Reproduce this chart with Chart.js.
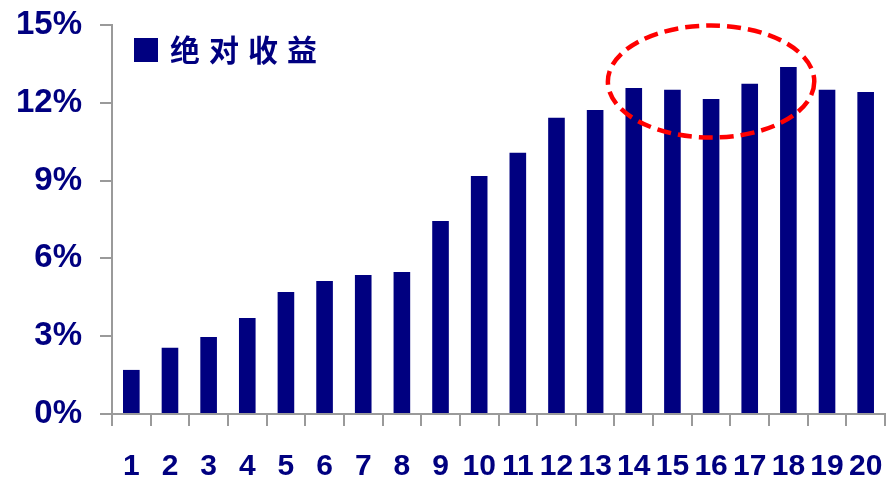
<!DOCTYPE html>
<html lang="zh">
<head>
<meta charset="UTF-8">
<title>绝对收益</title>
<script src="https://cdn.jsdelivr.net/npm/chart.js"></script>
<style>
    body { margin: 0; padding: 0; background: #fff; }
    #wrap { width: 887px; height: 482px; }
</style>
</head>
<body>
<div id="wrap"><canvas id="chart" width="887" height="482"></canvas></div>
<script>
const categories = ['1','2','3','4','5','6','7','8','9','10','11','12','13','14','15','16','17','18','19','20'];
const seriesName = '绝对收益';
const returns = [1.70, 2.55, 2.97, 3.70, 4.70, 5.13, 5.36, 5.48, 7.44, 9.18, 10.07, 11.42, 11.72, 12.57, 12.50, 12.15, 12.73, 13.38, 12.50, 12.42];
const yTicks = [0, 3, 6, 9, 12, 15];

const navy = '#000080';
const axisGray = '#9a9a9a';

// legend box drawn inside the plot area, top left
const innerLegend = {
    id: 'innerLegend',
    afterDraw(chart) {
        const ctx = chart.ctx;
        const ds = chart.data.datasets[0];
        ctx.save();
        ctx.fillStyle = ds.backgroundColor;
        ctx.fillRect(134, 38, 24, 24);
        ctx.font = 'bold 30px "Noto Sans CJK SC"';
        ctx.letterSpacing = '9px';
        ctx.textBaseline = 'middle';
        ctx.fillStyle = navy;
        ctx.fillText(ds.label, 170, 50);
        ctx.restore();
    }
};

// red dashed ellipse around the plateau bars
const highlight = {
    id: 'highlight',
    afterDraw(chart) {
        const x = chart.scales.x, y = chart.scales.y;
        const cx = x.getPixelForValue(15);
        const cy = y.getPixelForValue(12.82);
        const rx = (x.getPixelForValue(1) - x.getPixelForValue(0)) * 2.67;
        const ry = y.getPixelForValue(0) - y.getPixelForValue(2.16);
        const ctx = chart.ctx;
        ctx.save();
        ctx.strokeStyle = '#ff0000';
        ctx.lineWidth = 4.5;
        ctx.setLineDash([14, 7]);
        ctx.beginPath();
        ctx.ellipse(cx, cy, rx, ry, 0, 0, Math.PI * 2);
        ctx.stroke();
        ctx.restore();
    }
};

new Chart(document.getElementById('chart'), {
    type: 'bar',
    data: {
        labels: categories,
        datasets: [{
            label: seriesName,
            data: returns,
            backgroundColor: navy,
            categoryPercentage: 1,
            barPercentage: 0.43
        }]
    },
    options: {
        responsive: false,
        animation: false,
        devicePixelRatio: 1,
        layout: { padding: { top: 25, right: 2, left: 0, bottom: 0 } },
        plugins: { legend: { display: false }, tooltip: { enabled: false } },
        scales: {
            x: {
                grid: { offset: true, drawOnChartArea: false, tickLength: 12, color: axisGray, lineWidth: 2 },
                border: { color: axisGray, width: 2 },
                ticks: { color: navy, font: { family: 'Liberation Sans, Arial', size: 30, weight: 'bold' }, padding: 23, maxRotation: 0, autoSkip: false },
                afterFit(scale) {
                    scale.height = 68;
                    scale.paddingLeft = 0;
                    scale.paddingRight = 0;
                }
            },
            y: {
                min: 0,
                max: 15,
                afterBuildTicks(scale) { scale.ticks = yTicks.map(v => ({ value: v })); },
                grid: { drawOnChartArea: false, tickLength: 12, color: axisGray, lineWidth: 2 },
                border: { color: axisGray, width: 2 },
                ticks: {
                    color: navy,
                    font: { family: 'Liberation Sans, Arial', size: 33, weight: 'bold' },
                    padding: 18,
                    callback: v => v + '%'
                },
                afterFit(scale) {
                    scale.width = 112;
                    scale.paddingTop = 0;
                    scale.paddingBottom = 0;
                }
            }
        }
    },
    plugins: [innerLegend, highlight]
});
</script>
</body>
</html>
